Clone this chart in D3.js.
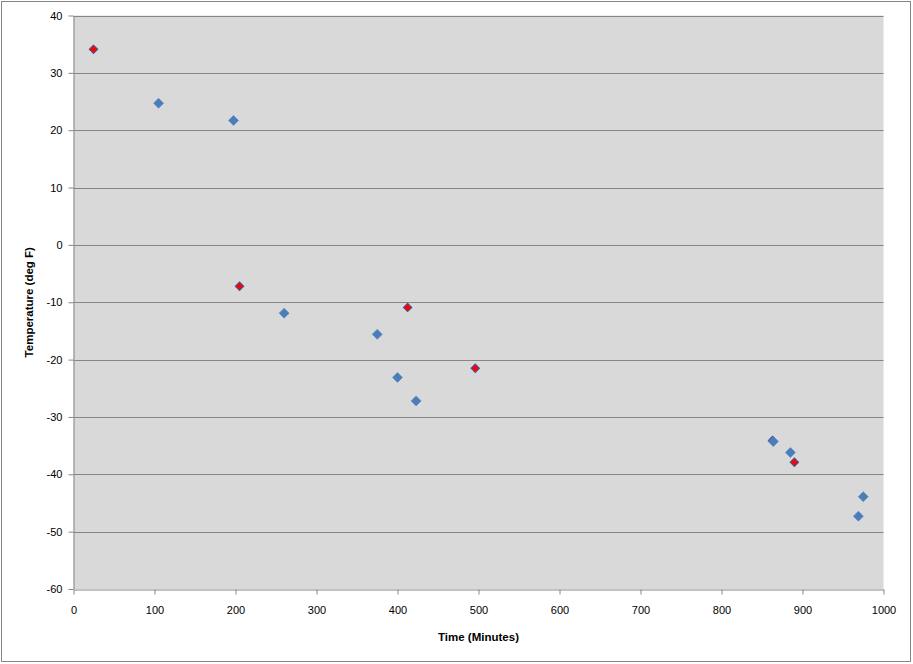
<!DOCTYPE html>
<html lang="en">
<head>
    <meta charset="UTF-8">
    <title>Temperature vs time</title>
    <style>
        body { margin: 0; background: #fff; }
        .tick text { font-family: "Liberation Sans", Arial, sans-serif; font-size: 11px; fill: #000; }
        .axis_title { font-family: "Liberation Sans", Arial, sans-serif; font-size: 11.5px; font-weight: bold; }
    </style>
    <script src="https://cdn.jsdelivr.net/npm/d3@7"></script>
</head>
<body>
<svg width="913" height="664"></svg>
<script>

    // series
    const blueTime = [105, 197.5, 260, 375, 400, 423, 864, 885, 969, 975];
    const blueTemp = [24.7, 21.7, -11.9, -15.6, -23.1, -27.2, -34.3, -36.2, -47.3, -43.9];
    const redTime = [24.7, 205, 412.5, 496, 863, 890];
    const redTemp = [34.1, -7.2, -10.9, -21.5, -34.1, -37.9];

    const xTicks = d3.range(0, 1001, 100);
    const yTicks = d3.range(-60, 41, 10);

    let svg = d3.select("svg");

    // outer chart border
    svg.append("rect").attr("x", 1.5).attr("y", 1.5).attr("width", 909).attr("height", 660)
        .attr("fill", "#fff").attr("stroke", "#868686").attr("stroke-width", 1);

    let plotLeft = 73.5, plotRight = 883.5, plotTop = 15.5, plotBottom = 589;

    let x = d3.scaleLinear().domain([0, 1000]).range([plotLeft, plotRight]);
    let y = d3.scaleLinear().domain([-60, 40]).range([plotBottom, plotTop]);

    svg.append("rect").attr("x", plotLeft).attr("y", plotTop)
        .attr("width", plotRight - plotLeft).attr("height", plotBottom - plotTop)
        .attr("fill", "#d9d9d9");

    // gridlines
    svg.append("g").selectAll("line")
        .data(yTicks.filter(function (d) { return d > -60; }))
        .enter().append("line")
        .attr("x1", plotLeft).attr("x2", plotRight)
        .attr("y1", function (d) { return Math.round(y(d)) + 0.5; })
        .attr("y2", function (d) { return Math.round(y(d)) + 0.5; })
        .attr("stroke", "#868686").attr("stroke-width", 1);

    // plain hyphen minus, no thousands comma
    let plain = function (d) { return String(d); };

    let xAxis = svg.append("g").attr("transform", `translate(0,${Math.round(plotBottom) + 0.5})`)
        .call(d3.axisBottom(x).tickValues(xTicks).tickFormat(plain).tickSize(5).tickPadding(12).tickSizeOuter(0));
    let yAxis = svg.append("g").attr("transform", `translate(${plotLeft},0)`)
        .call(d3.axisLeft(y).tickValues(yTicks).tickFormat(plain).tickSize(5).tickPadding(6).tickSizeOuter(0));

    [xAxis, yAxis].forEach(function (ax) {
        ax.select(".domain").attr("stroke", "#868686");
        ax.selectAll(".tick line").attr("stroke", "#868686");
    });

    svg.append("text").attr("class", "axis_title")
        .attr("x", (plotLeft + plotRight) / 2).attr("y", 641)
        .attr("text-anchor", "middle").text("Time (Minutes)");
    svg.append("text").attr("class", "axis_title")
        .attr("transform", `translate(33,${(plotTop + plotBottom) / 2})rotate(-90)`)
        .attr("text-anchor", "middle").text("Temperature (deg F)");

    let diamond = d3.symbol().type(d3.symbolSquare);

    // red series sits under the blue one
    svg.append("g").selectAll("path")
        .data(d3.zip(redTime, redTemp))
        .enter().append("path")
        .attr("d", diamond.size(36)())
        .attr("transform", function (d) { return `translate(${x(d[0])},${y(d[1])})rotate(45)`; })
        .attr("fill", "#ff0000")
        .attr("stroke", "#3b5a9a").attr("stroke-width", 1);

    svg.append("g").selectAll("path")
        .data(d3.zip(blueTime, blueTemp))
        .enter().append("path")
        .attr("d", diamond.size(50)())
        .attr("transform", function (d) { return `translate(${x(d[0])},${y(d[1])})rotate(45)`; })
        .attr("fill", "#4a7ebb")
        .attr("stroke", "#5585c2").attr("stroke-width", 0.6);

</script>
</body>
</html>
